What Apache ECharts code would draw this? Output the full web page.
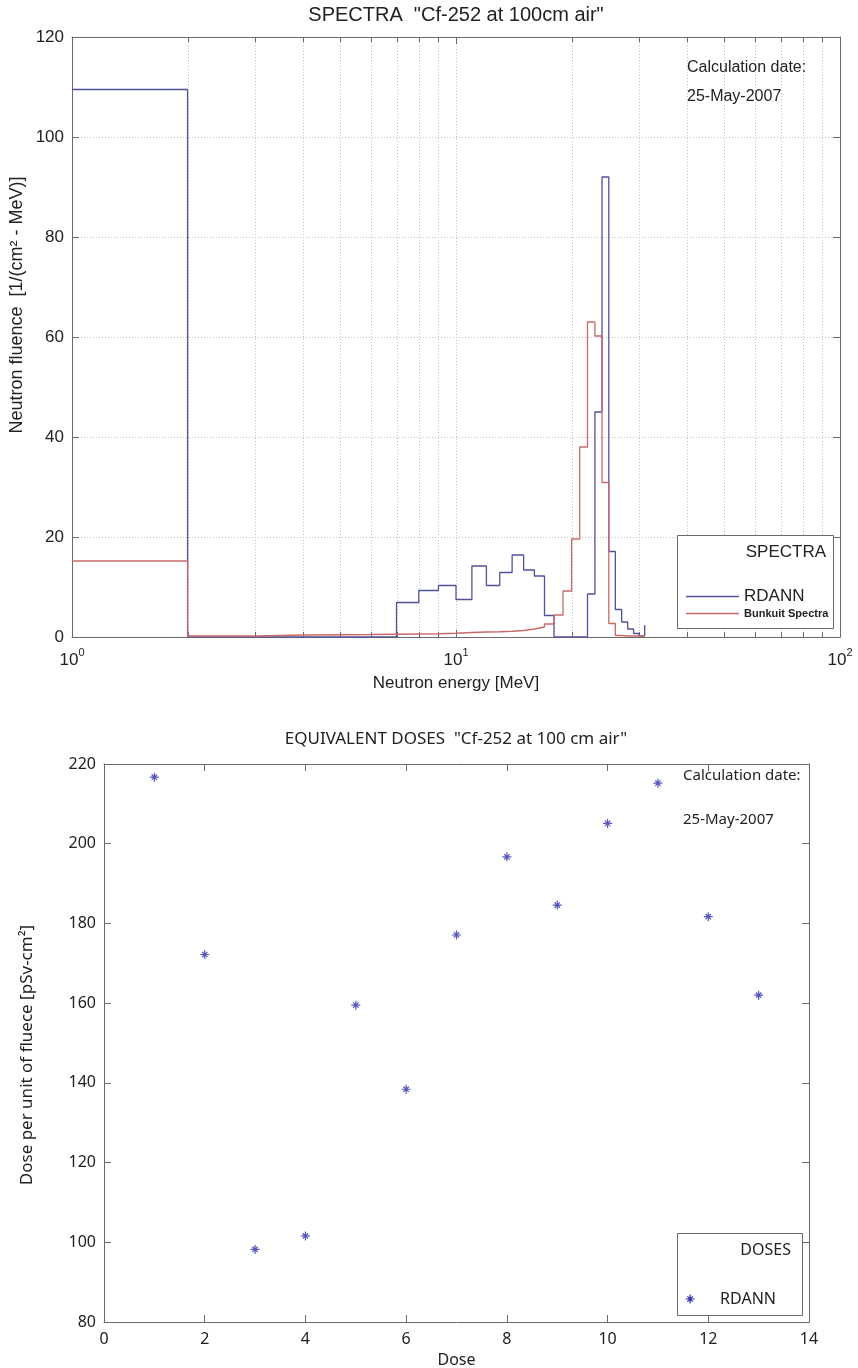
<!DOCTYPE html>
<html>
<head>
<meta charset="utf-8">
<script src="https://cdn.jsdelivr.net/npm/echarts/dist/echarts.min.js"></script>
<style>
html,body{margin:0;padding:0;background:#fff;}
#c{width:858px;height:1368px;}
</style>
</head>
<body>
<div id="c"></div>
<script>
// ---- data ----
const energyEdges = [1,2,3,4,5,6,7,8,9,10,11,12,13,14,15,16,17,18,19,20,21,22,23,24,25,26,27,28,29,30,31];
const rdann = [109.5,0,0,0,0,0,6.9,9.3,10.3,7.5,14.2,10.3,12.9,16.4,13.4,12.2,4.3,0,0,0,0,8.6,45,92,17.1,5.5,3.0,1.6,0.7,0.2,2.4];
const bunkuit = [15.2,0.2,0.4,0.45,0.5,0.55,0.6,0.65,0.75,0.9,1.0,1.05,1.15,1.3,1.6,2.0,2.6,4.4,9.2,19.6,38,63,60.2,30.9,2.7,0.3,0.2,0.2,0.2,0.2,0.2];
const minorTickValues = [2,3,4,5,6,7,8,9,20,30,40,50,60,70,80,90];
const decadeExponents = ['0','1','2'];
const doseIndex = [1,2,3,4,5,6,7,8,9,10,11,12,13];
const doseValues = [216.7,172.2,98.2,101.6,159.5,138.4,177.1,196.7,184.6,205.1,215.2,181.7,162.0];
const seriesNames = ['RDANN','Bunkuit Spectra'];

// ---- styles ----
const FT = 'Liberation Sans, Arial, sans-serif';
const FB = 'Noto Sans, sans-serif';
const axisCol = '#6a6a6a';
const txt = '#222';
const gridCol = '#c2c2c2';
const blueCol = '#52529c';
const redCol = '#c96a6a';
const starCol = '#2b2baa';
const Y1MIN = 0, Y1MAX = 120;
const asterisk = 'path://M5 0L5 10M0 5L10 5M2 2L8 8M8 2L2 8';

const chart = echarts.init(document.getElementById('c'), null, {renderer:'canvas', width:858, height:1368});

function mirrorX(grid, type, extra){
  return Object.assign({
    gridIndex:grid, type:type, position:'top',
    axisLine:{show:true, onZero:false, lineStyle:{color:axisCol}},
    axisTick:{show:true, inside:true, length:7, lineStyle:{color:axisCol}},
    axisLabel:{show:false}, splitLine:{show:false}
  }, extra);
}
function mirrorY(grid, extra){
  return Object.assign({
    gridIndex:grid, type:'value', position:'right',
    axisLine:{show:true, onZero:false, lineStyle:{color:axisCol}},
    axisTick:{show:true, inside:true, length:7, lineStyle:{color:axisCol}},
    axisLabel:{show:false}, splitLine:{show:false}
  }, extra);
}

const option = {
  animation:false,
  backgroundColor:'#ffffff',
  title:[
    {text:'SPECTRA  "Cf-252 at 100cm air"', left:456, top:5, textAlign:'center', padding:0,
     textStyle:{fontFamily:FT, fontSize:20, fontWeight:'normal', color:txt}},
    {text:'EQUIVALENT DOSES  "Cf-252 at 100 cm air"', left:456, top:731, textAlign:'center', padding:0,
     textStyle:{fontFamily:FB, fontSize:17, fontWeight:'normal', color:txt}}
  ],
  grid:[
    {left:72, top:37, width:768, height:600, outerBoundsMode:'none', containLabel:false},
    {left:104, top:764, width:705, height:558, outerBoundsMode:'none', containLabel:false}
  ],
  xAxis:[
    {gridIndex:0, type:'log', logBase:10, min:1, max:100,
     axisLine:{show:true, onZero:false, lineStyle:{color:axisCol}},
     axisTick:{show:true, inside:true, length:7, lineStyle:{color:axisCol}},
     axisLabel:{margin:10,
       formatter:function(v){ const i = Math.round(Math.log10(v)); return '{b|10}{s|' + decadeExponents[i] + '}'; },
       rich:{b:{fontFamily:FT, fontSize:17, color:txt, verticalAlign:'bottom', lineHeight:22},
             s:{fontFamily:FT, fontSize:11, color:txt, verticalAlign:'top', lineHeight:12}}},
     splitLine:{show:true, lineStyle:{color:gridCol, type:[1,2], width:1}},
     name:'Neutron energy [MeV]', nameLocation:'middle', nameGap:38, nameMoveOverlap:false,
     nameTextStyle:{fontFamily:FT, fontSize:17, color:txt}},
    mirrorX(0,'log',{logBase:10, min:1, max:100}),
    {gridIndex:1, type:'value', min:0, max:14, interval:2,
     axisLine:{show:true, onZero:false, lineStyle:{color:axisCol}},
     axisTick:{show:true, inside:true, length:7, lineStyle:{color:axisCol}},
     axisLabel:{margin:9, fontFamily:FB, fontSize:16, color:txt},
     splitLine:{show:false},
     name:'Dose', nameLocation:'middle', nameGap:30, nameMoveOverlap:false,
     nameTextStyle:{fontFamily:FB, fontSize:16, color:txt}},
    mirrorX(1,'value',{min:0, max:14, interval:2})
  ],
  yAxis:[
    {gridIndex:0, type:'value', min:Y1MIN, max:Y1MAX, interval:20,
     axisLine:{show:true, onZero:false, lineStyle:{color:axisCol}},
     axisTick:{show:true, inside:true, length:7, lineStyle:{color:axisCol}},
     axisLabel:{margin:8, fontFamily:FT, fontSize:17, color:txt},
     splitLine:{show:true, lineStyle:{color:gridCol, type:[1,2], width:1}},
     name:'Neutron fluence  [1/(cm\u00B2 - MeV)]', nameLocation:'middle', nameGap:46, nameMoveOverlap:false,
     nameTextStyle:{fontFamily:FT, fontSize:18, color:txt, padding:[0,0,0,64]}},
    mirrorY(0,{min:Y1MIN, max:Y1MAX, interval:20}),
    {gridIndex:1, type:'value', min:80, max:220, interval:20,
     axisLine:{show:true, onZero:false, lineStyle:{color:axisCol}},
     axisTick:{show:true, inside:true, length:7, lineStyle:{color:axisCol}},
     axisLabel:{margin:8, fontFamily:FB, fontSize:16, color:txt},
     splitLine:{show:false},
     name:'Dose per unit of fluece [pSv-cm\u00B2]', nameLocation:'middle', nameGap:68, nameMoveOverlap:false,
     nameTextStyle:{fontFamily:FB, fontSize:17, color:txt, padding:[0,24,0,0]}},
    mirrorY(1,{min:80, max:220, interval:20})
  ],
  legend:[
    {orient:'vertical', left:686, top:588, padding:0, itemWidth:53, itemHeight:1.5, itemGap:3,
     selectedMode:false, icon:'rect', itemStyle:{borderWidth:0},
     textStyle:{fontFamily:FT, color:txt, fontSize:17},
     data:[{name:seriesNames[0], textStyle:{fontSize:17}},
           {name:seriesNames[1], textStyle:{fontSize:11, fontWeight:'bold'}}], z:6},
    {orient:'vertical', left:685, top:1291, padding:0, itemWidth:50, itemHeight:9,
     selectedMode:false,
     textStyle:{fontFamily:FB, color:txt, fontSize:16},
     data:[{name:seriesNames[0], icon:asterisk,
            itemStyle:{color:starCol, borderColor:starCol, borderWidth:1.2}}], z:6}
  ],
  graphic:[
    {type:'rect', z:5, shape:{x:677.5, y:535.5, width:156, height:93},
     style:{fill:'#fff', stroke:axisCol, lineWidth:1}},
    {type:'text', z:6, x:826, y:552,
     style:{text:'SPECTRA', fontFamily:FT, fontSize:17, fill:txt, align:'right', verticalAlign:'middle'}},
    {type:'text', z:6, x:687, y:68,
     style:{text:'Calculation date:', fontFamily:FT, fontSize:16, fill:txt, align:'left', verticalAlign:'middle'}},
    {type:'text', z:6, x:687, y:97,
     style:{text:'25-May-2007', fontFamily:FT, fontSize:16, fill:txt, align:'left', verticalAlign:'middle'}},
    {type:'rect', z:5, shape:{x:677.5, y:1233.5, width:125, height:82},
     style:{fill:'#fff', stroke:axisCol, lineWidth:1}},
    {type:'text', z:6, x:791, y:1250,
     style:{text:'DOSES', fontFamily:FB, fontSize:16, fill:txt, align:'right', verticalAlign:'middle'}},
    {type:'text', z:6, x:683, y:776,
     style:{text:'Calculation date:', fontFamily:FB, fontSize:15, fill:txt, align:'left', verticalAlign:'middle'}},
    {type:'text', z:6, x:683, y:820,
     style:{text:'25-May-2007', fontFamily:FB, fontSize:15, fill:txt, align:'left', verticalAlign:'middle'}}
  ],
  series:[
    {type:'custom', name:'minor', xAxisIndex:0, yAxisIndex:0, silent:true, z:1,
     data:minorTickValues.map(v => [v, Y1MIN]),
     encode:{x:0, y:1},
     renderItem:function(params, api){
       const v = api.value(0);
       const p0 = api.coord([v, Y1MIN]);
       const p1 = api.coord([v, Y1MAX]);
       const x = Math.round(p0[0]) + 0.5;
       return {type:'group', children:[
         {type:'line', shape:{x1:x, y1:p0[1], x2:x, y2:p1[1]}, style:{stroke:gridCol, lineWidth:1, lineDash:[1,2]}},
         {type:'line', shape:{x1:x, y1:p0[1], x2:x, y2:p0[1]-5}, style:{stroke:axisCol, lineWidth:1}},
         {type:'line', shape:{x1:x, y1:p1[1], x2:x, y2:p1[1]+5}, style:{stroke:axisCol, lineWidth:1}}
       ]};
     }},
    {type:'line', name:seriesNames[0], xAxisIndex:0, yAxisIndex:0, step:'end', symbol:'none', z:3,
     data:energyEdges.map((e,i) => [e, rdann[i]]),
     lineStyle:{color:blueCol, width:1.3}, itemStyle:{color:blueCol}},
    {type:'line', name:seriesNames[1], xAxisIndex:0, yAxisIndex:0, step:'end', symbol:'none', z:3,
     data:energyEdges.map((e,i) => [e, bunkuit[i]]),
     lineStyle:{color:redCol, width:1.3}, itemStyle:{color:redCol}},
    {type:'scatter', name:seriesNames[0], xAxisIndex:2, yAxisIndex:2, symbol:asterisk, symbolSize:9, z:3,
     data:doseIndex.map((d,i) => [d, doseValues[i]]),
     itemStyle:{color:starCol, borderColor:starCol, borderWidth:1.2}}
  ]
};
chart.setOption(option);
</script>
</body>
</html>
